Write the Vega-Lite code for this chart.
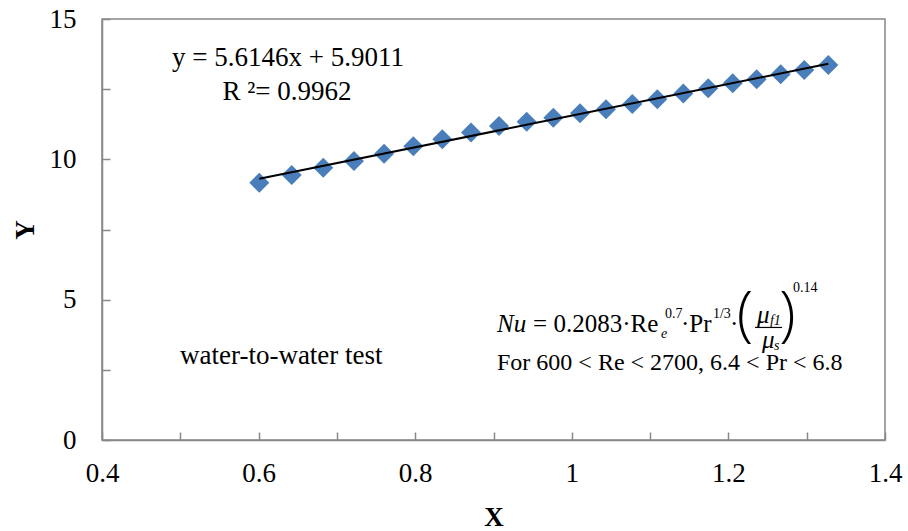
{
  "$schema": "https://vega.github.io/schema/vega-lite/v6.json",
  "width": 783,
  "height": 421,
  "autosize": "none",
  "padding": {"left": 102, "top": 19, "right": 23, "bottom": 91},
  "background": "white",
  "config": {
    "view": {"stroke": "#888888", "strokeWidth": 1.5},
    "font": "Liberation Serif"
  },
  "encoding": {
    "x": {
      "field": "x", "type": "quantitative",
      "scale": {"domain": [0.4, 1.4], "nice": false, "zero": false},
      "axis": {
        "title": "X",
        "values": [0.4, 0.5, 0.6, 0.7, 0.8, 0.9, 1.0, 1.1, 1.2, 1.3, 1.4],
        "labelExpr": "round(datum.value*10)%2==0 ? toString(datum.value) : ''",
        "grid": false,
        "domainColor": "#888888", "domainWidth": 1.5,
        "tickColor": "#888888", "tickWidth": 1.5, "tickSize": -8,
        "labelFont": "Liberation Serif", "labelFontSize": 27, "labelColor": "black",
        "labelPadding": 28, "labelFlush": false, "labelOverlap": false,
        "titleFont": "Liberation Serif", "titleFontSize": 27, "titleFontWeight": "bold", "titleColor": "black",
        "titleY": 77, "titleBaseline": "middle"
      }
    },
    "y": {
      "field": "y", "type": "quantitative",
      "scale": {"domain": [0, 15], "nice": false, "zero": false},
      "axis": {
        "title": "Y",
        "values": [0, 2.5, 5, 7.5, 10, 12.5, 15],
        "labelExpr": "datum.value%5==0 ? toString(datum.value) : ''",
        "grid": false,
        "domainColor": "#888888", "domainWidth": 1.5,
        "tickColor": "#888888", "tickWidth": 1.5, "tickSize": -8,
        "labelFont": "Liberation Serif", "labelFontSize": 27, "labelColor": "black",
        "labelPadding": 34, "labelFlush": false, "labelOverlap": false,
        "titleFont": "Liberation Serif", "titleFontSize": 27, "titleFontWeight": "bold", "titleColor": "black",
        "titleX": -77, "titleY": 210.5, "titleAngle": -90, "titleAlign": "center", "titleBaseline": "middle"
      }
    }
  },
  "layer": [
    {
      "data": {"name": "pts", "values": [
        {"x": 0.6009, "y": 9.166}, {"x": 0.6423, "y": 9.441}, {"x": 0.6826, "y": 9.701},
        {"x": 0.7218, "y": 9.939}, {"x": 0.7602, "y": 10.20}, {"x": 0.7976, "y": 10.47},
        {"x": 0.8346, "y": 10.72}, {"x": 0.8713, "y": 10.96}, {"x": 0.9070, "y": 11.19},
        {"x": 0.9424, "y": 11.34}, {"x": 0.9764, "y": 11.48}, {"x": 1.0105, "y": 11.64},
        {"x": 1.0437, "y": 11.78}, {"x": 1.0773, "y": 11.97}, {"x": 1.1092, "y": 12.14},
        {"x": 1.1424, "y": 12.35}, {"x": 1.1743, "y": 12.53}, {"x": 1.2055, "y": 12.71},
        {"x": 1.2361, "y": 12.85}, {"x": 1.2668, "y": 13.03}, {"x": 1.2969, "y": 13.18},
        {"x": 1.3276, "y": 13.36}
      ]},
      "layer": [
        {"mark": {"type": "point", "shape": "diamond", "filled": true, "size": 400, "color": "#4a7ebb", "opacity": 1}},
        {"transform": [{"regression": "y", "on": "x"}],
         "mark": {"type": "line", "color": "black", "strokeWidth": 2}}
      ]
    },
    {
      "data": {"values": [
        {"x": 0.6375, "y": 13.609, "t": "y = 5.6146x + 5.9011"},
        {"x": 0.6363, "y": 12.398, "t": "R ²= 0.9962"}
      ]},
      "mark": {"type": "text", "fontSize": 27, "align": "center", "baseline": "middle", "color": "black", "font": "Liberation Serif"},
      "encoding": {"text": {"field": "t"}}
    },
    {
      "data": {"values": [
        {"x": 0.4996, "y": 2.993, "t": "water-to-water test"}
      ]},
      "mark": {"type": "text", "fontSize": 27, "align": "left", "baseline": "middle", "color": "black", "font": "Liberation Serif"},
      "encoding": {"text": {"field": "t"}}
    },
    {
      "data": {"values": [
        {"x": 0.9045, "y": 4.133, "t": "Nu"},
        {"x": 1.2365, "y": 4.45, "t": "μ"},
        {"x": 1.2429, "y": 3.58, "t": "μ"}
      ]},
      "mark": {"type": "text", "fontSize": 25, "fontStyle": "italic", "align": "left", "baseline": "middle", "color": "black", "font": "Liberation Serif"},
      "encoding": {"text": {"field": "t"}}
    },
    {
      "data": {"values": [
        {"x": 0.9506, "y": 4.133, "t": "= 0.2083·Re"},
        {"x": 1.1395, "y": 4.133, "t": "·Pr"},
        {"x": 1.2020, "y": 4.133, "t": "·"}
      ]},
      "mark": {"type": "text", "fontSize": 25, "align": "left", "baseline": "middle", "color": "black", "font": "Liberation Serif"},
      "encoding": {"text": {"field": "t"}}
    },
    {
      "data": {"values": [
        {"x": 0.9045, "y": 2.743, "t": "For 600 < Re < 2700, 6.4 < Pr < 6.8"}
      ]},
      "mark": {"type": "text", "fontSize": 24, "align": "left", "baseline": "middle", "color": "black", "font": "Liberation Serif"},
      "encoding": {"text": {"field": "t"}}
    },
    {
      "data": {"values": [
        {"x": 1.1190, "y": 4.489, "t": "0.7"},
        {"x": 1.1803, "y": 4.489, "t": "1/3"},
        {"x": 1.2825, "y": 5.40, "t": "0.14"}
      ]},
      "mark": {"type": "text", "fontSize": 14, "align": "left", "baseline": "middle", "color": "black", "font": "Liberation Serif"},
      "encoding": {"text": {"field": "t"}}
    },
    {
      "data": {"values": [
        {"x": 1.1139, "y": 3.776, "t": "e"},
        {"x": 1.2531, "y": 4.236, "t": "f1"},
        {"x": 1.2582, "y": 3.366, "t": "s"}
      ]},
      "mark": {"type": "text", "fontSize": 14, "fontStyle": "italic", "align": "left", "baseline": "middle", "color": "black", "font": "Liberation Serif"},
      "encoding": {"text": {"field": "t"}}
    },
    {
      "data": {"values": [
        {"x": 1.2212, "y": 4.40, "t": "("},
        {"x": 1.2755, "y": 4.40, "t": ")"}
      ]},
      "mark": {"type": "text", "fontSize": 60, "fontWeight": 300, "align": "center", "baseline": "middle", "color": "black", "font": "Open Sans"},
      "encoding": {"text": {"field": "t"}}
    },
    {
      "data": {"values": [
        {"x": 1.234, "x2": 1.2685, "y": 4.01}
      ]},
      "mark": {"type": "rule", "color": "black", "strokeWidth": 1.2},
      "encoding": {"x2": {"field": "x2"}}
    }
  ]
}
